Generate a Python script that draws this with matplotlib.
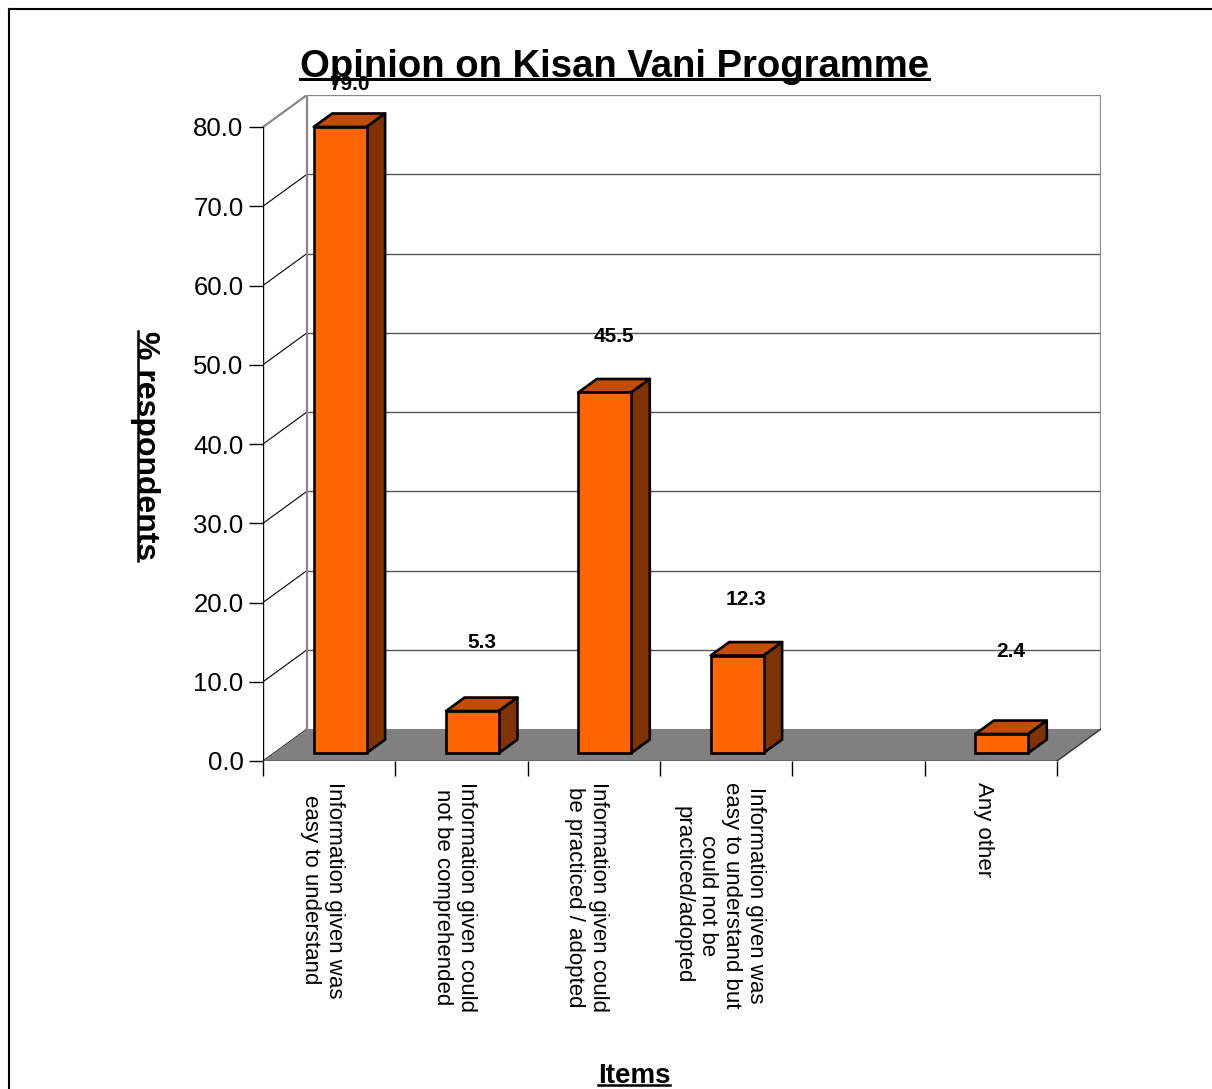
import numpy as np
import matplotlib
matplotlib.use("Agg")
import matplotlib.pyplot as plt
from matplotlib.patches import Polygon
from matplotlib.lines import Line2D
from matplotlib.transforms import ScaledTranslation

plt.rcParams['font.family'] = ['Liberation Sans', 'DejaVu Sans']

# === Data ===
items = [
    "Information given was\neasy to understand",
    "Information given could\nnot be comprehended",
    "Information given could\nbe practiced / adopted",
    "Information given was\neasy to understand but\ncould not be\npracticed/adopted",
    "",
    "Any other",
]
pct = [79.0, 5.3, 45.5, 12.3, None, 2.4]
# how high each value label sits above its bar top, in % units
label_lift = [6.4, 9.6, 8.1, 8.1, None, 11.4]
yticks = [0, 10, 20, 30, 40, 50, 60, 70, 80]

title = "Opinion on Kisan Vani Programme"
ylabel = "% respondents"
xlabel = "Items"

# === Colours ===
c_front = "#FF6600"
c_top = "#C24D00"
c_side = "#803300"
c_floor = "#808080"
c_wall = "#888888"

# === Figure ===
W, H = 1212, 1089
fig = plt.figure(figsize=(W / 100, H / 100), dpi=100)


def fx(x):
    return x / W


def fy(y):
    return 1 - y / H


n = len(items)
ymax = yticks[-1]
DX = 44 / (794 / n)      # depth offset in category units
DY = 32 / (634 / ymax)   # depth offset in % units

ax = fig.add_axes([fx(263), fy(761), fx(1101) - fx(263), fy(95) - fy(761)])
ax.set_xlim(-0.5, n - 0.5 + DX)
ax.set_ylim(0, ymax + DY)
for s in ax.spines.values():
    s.set_visible(False)
ax.patch.set_visible(False)

x0, x1 = -0.5, n - 0.5

# back wall gridlines + side wall diagonals
for v in yticks[1:-1]:
    ax.plot([x0 + DX, x1 + DX], [v + DY, v + DY], color="#555555", lw=1.0, zorder=1)
for v in yticks[:-1]:
    ax.plot([x0, x0 + DX], [v, v + DY], color="black", lw=0.8, zorder=1)

# floor
ax.add_patch(Polygon([[x0, 0], [x1, 0], [x1 + DX, DY], [x0 + DX, DY]],
                     closed=True, fc=c_floor, ec="none", zorder=2))
ax.plot([x1, x1 + DX], [0, DY], color="#333333", lw=1.0, zorder=3)

# wall frame
ax.plot([x0, x0 + DX, x1 + DX, x1 + DX], [ymax, ymax + DY, ymax + DY, DY],
        color=c_wall, lw=1.6, zorder=1)
ax.plot([x0 + DX, x0 + DX], [DY, ymax + DY], color=c_wall, lw=1.6, zorder=1)

# front axis lines
ax.plot([x0, x0], [0, ymax], color="black", lw=1.0, zorder=3)
ax.plot([x0, x1], [0, 0], color="black", lw=1.0, zorder=3)

# === 3D bars ===
f0, f1 = 0.25, 0.67
w = 0.4
ddx = (f1 - f0) * DX
ddy = (f1 - f0) * DY
for i, v in enumerate(pct):
    if v is None:
        continue
    xl = i - w / 2 + f0 * DX
    xr = xl + w
    yb = f0 * DY
    yt = yb + v
    ax.add_patch(Polygon([[xl, yt], [xr, yt], [xr + ddx, yt + ddy], [xl + ddx, yt + ddy]],
                         closed=True, fc=c_top, ec="black", lw=1.9, joinstyle="round", zorder=4))
    ax.add_patch(Polygon([[xr, yb], [xr + ddx, yb + ddy], [xr + ddx, yt + ddy], [xr, yt]],
                         closed=True, fc=c_side, ec="black", lw=1.9, joinstyle="round", zorder=4))
    ax.bar(i + f0 * DX, v, width=w, bottom=yb, color=c_front, edgecolor="black",
           lw=1.9, zorder=5)
    ax.text(i + (f0 + f1) / 2 * DX, v + label_lift[i], f"{v:.1f}", ha="center", va="center",
            fontsize=15, fontweight="bold", zorder=6, clip_on=False)

# === Ticks ===
ax.set_yticks(yticks)
ax.set_yticklabels([f"{t:.1f}" for t in yticks])
ax.tick_params(axis="y", direction="out", length=10, width=1, pad=4, labelsize=18.5,
               colors="black")

ax.set_xticks(range(n))
ax.set_xticklabels(items, rotation=270, ha="center", va="top", multialignment="center",
                   fontsize=16)
ax.set_xticks(np.arange(n + 1) - 0.5, minor=True)
ax.tick_params(axis="x", which="major", length=0, pad=15)
ax.tick_params(axis="x", which="minor", direction="out", length=11, width=1, colors="black")
shift = ScaledTranslation(-7 / 100, 0, fig.dpi_scale_trans)
for lab in ax.get_xticklabels():
    lab.set_transform(lab.get_transform() + shift)

# === Titles ===
t_title = fig.text(fx(614), fy(77), title, ha="center", va="baseline",
                   fontsize=27.5, fontweight="bold")
t_ylab = fig.text(fx(145), fy(446), ylabel, rotation=270, ha="center", va="center",
                  fontsize=23, fontweight="bold")
t_xlab = fig.text(fx(634), fy(1083), xlabel, ha="center", va="baseline",
                  fontsize=20, fontweight="bold")

# outer frame
fig.add_artist(Line2D([fx(9), fx(9)], [0, fy(9)], color="black", lw=1.5))
fig.add_artist(Line2D([fx(9), 1], [fy(9), fy(9)], color="black", lw=1.5))

# === Underlines ===
fig.canvas.draw()
renderer = fig.canvas.get_renderer()


def underline(t, lw, depth, vertical=False):
    # depth: distance of the line from the text's descender edge, in em
    bb = t.get_window_extent(renderer)
    em = t.get_fontsize() * fig.dpi / 72
    d = depth * em
    if vertical:
        x = bb.x0 + d
        fig.add_artist(Line2D([x / W, x / W], [bb.y0 / H, bb.y1 / H], color="black", lw=lw))
    else:
        y = bb.y0 + d
        fig.add_artist(Line2D([bb.x0 / W, bb.x1 / W], [y / H, y / H], color="black", lw=lw))


underline(t_title, 2.2, 0.15)
underline(t_ylab, 1.8, 0.24, vertical=True)
underline(t_xlab, 1.8, 0.15)

fig.savefig("out.png", dpi=100)
